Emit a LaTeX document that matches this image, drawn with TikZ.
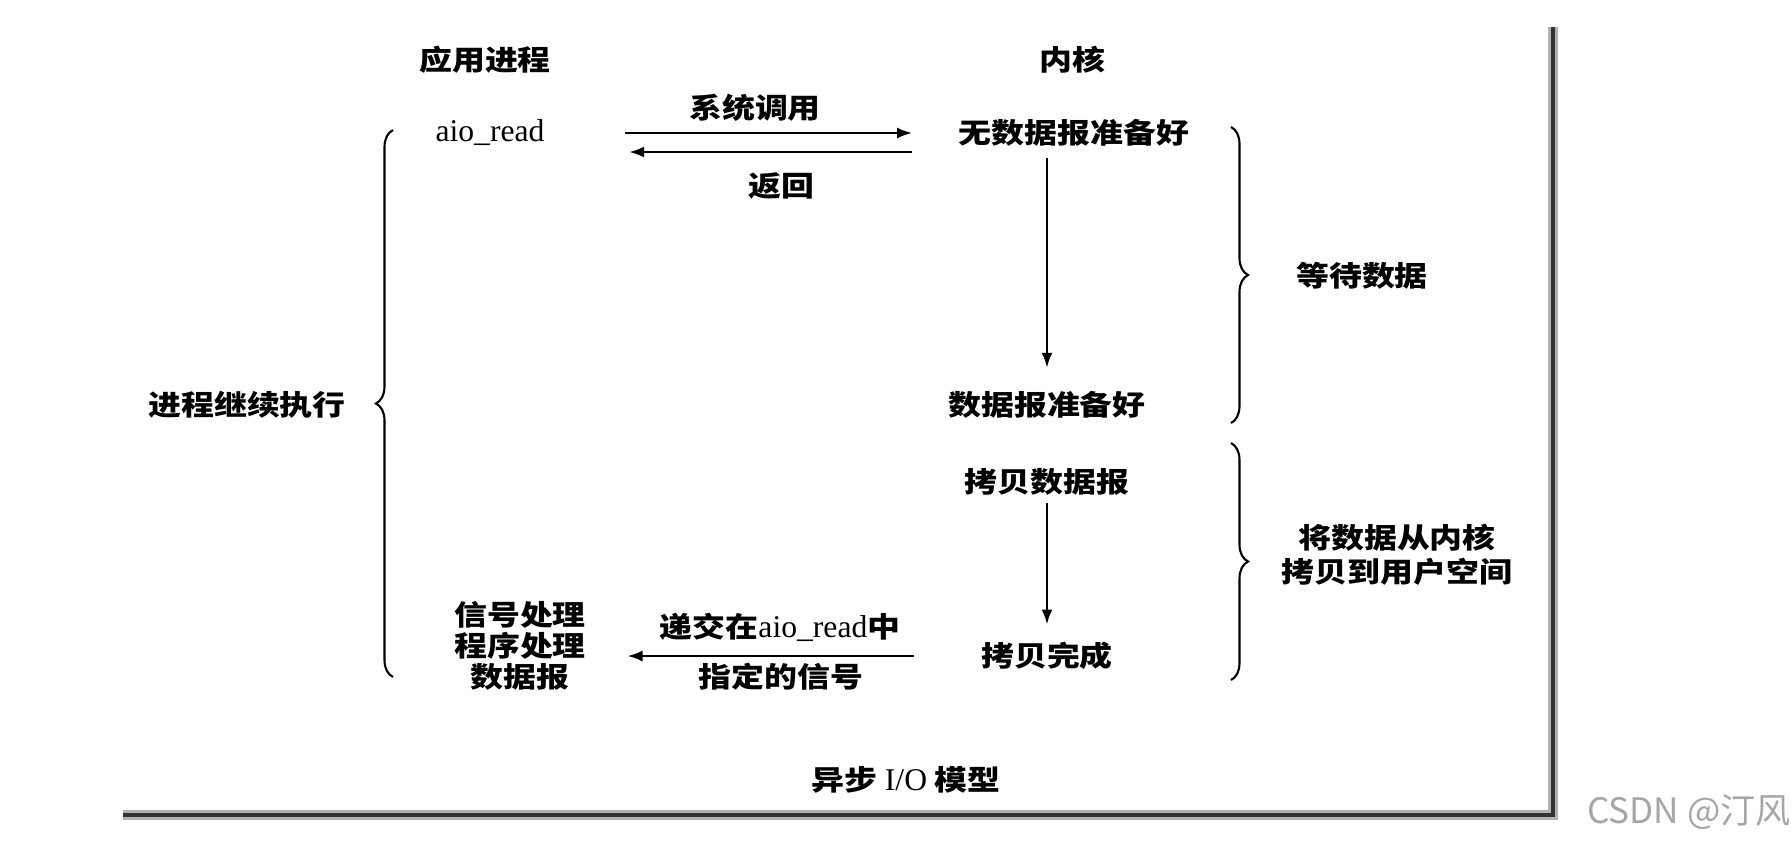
\documentclass[tikz,border=0pt]{standalone}
\usepackage{fontspec}
\newfontfamily\hei{Noto Sans CJK SC}[FakeStretch=1.17]
\newfontfamily\tms{Liberation Serif}
\newfontfamily\csdnfont{Noto Sans CJK SC}
\usepackage{tikz}
\usetikzlibrary{arrows.meta, decorations.pathreplacing}

\begin{document}
\begin{tikzpicture}[x=0.1mm, y=-0.1mm,
				>={Latex[length=1.5mm, width=1.1mm]},   %Voreinstellung für Pfeilspitzen
				lbl/.style={inner sep=0pt, align=center, font=\hei\bfseries\fontsize{8}{8.8}\selectfont},
				lat/.style={inner sep=0pt, font=\tms\fontsize{9}{10}\selectfont},
				arr/.style={->, line width=0.7pt},
				brc/.style={decorate, decoration={brace, amplitude=1.7mm}, line width=0.6pt}]
				\useasboundingbox (0,0) rectangle (1791,844);
				% Rahmen
				\draw[line width=2.6pt, black!30] (1553,27) -- (1553,815) -- (123,815);
				\draw[line width=1.4pt, black!80] (1553,27) -- (1553,815) -- (123,815);
				% Spaltenköpfe
				\node[lbl] (proc) at (485,60) {应用进程};
				\node[lbl] (kern) at (1072,60) {内核};
				% Zustände
				\node[lat] (aio) at (490,133) {aio\_read};
				\node[lbl] (nodata) at (1074,133) {无数据报准备好};
				\node[lbl] (ready) at (1047,405) {数据报准备好};
				\node[lbl] (copy) at (1047,482) {拷贝数据报};
				\node[lbl] (done) at (1047,656) {拷贝完成};
				\node[lbl] (sig) at (520,646) {信号处理\\程序处理\\数据报};
				% Pfeile
				\draw[arr, shorten <=8mm, shorten >=4.6mm] (aio) -- (nodata);
				\draw[arr, shorten <=4.6mm, shorten >=8.4mm] ([yshift=-1.9mm]nodata.west) -- ([yshift=-1.9mm]aio.east);
				\draw[arr, shorten <=1.1mm, shorten >=2.3mm] (nodata.south -| ready) -- (ready.north);
				\draw[arr, shorten <=0.7mm, shorten >=1.7mm] (copy) -- (done);
				\draw[arr, shorten <=6.7mm, shorten >=4.1mm] (done.west) -- (done.west -| sig.east);
				% Pfeile beschriften
				\node[lbl] (callt) at (755,108) {系统调用};
				\node[lbl] (rett) at (781,186) {返回};
				\node[lbl] (delt) at (780,627) {递交在{\tms\mdseries\fontsize{9}{10}\selectfont aio\_read}中};
				\node[lbl] (sigt) at (781,677) {指定的信号};
				% Klammern
				\draw[brc] (393,677) -- (393,130);
				\draw[brc] (1231,127) -- (1231,423);
				\draw[brc] (1231,443) -- (1231,680);
				\node[lbl] (cont) at (247,405) {进程继续执行};
				\node[lbl] (wait) at (1362,276) {等待数据};
				\node[lbl, font=\hei\bfseries\fontsize{8}{9.6}\selectfont] (tocopy) at (1397,555) {将数据从内核\\拷贝到用户空间};
				% Unterschrift
				\node[lbl] (cap) at (906,780) {异步 {\tms\mdseries\fontsize{9}{10}\selectfont I/O} 模型};
				\node[inner sep=0pt, text=black!35, font=\csdnfont\fontsize{10}{11}\selectfont] (csdn) at (1689,812) {CSDN @汀风};
			\end{tikzpicture}
\end{document}
